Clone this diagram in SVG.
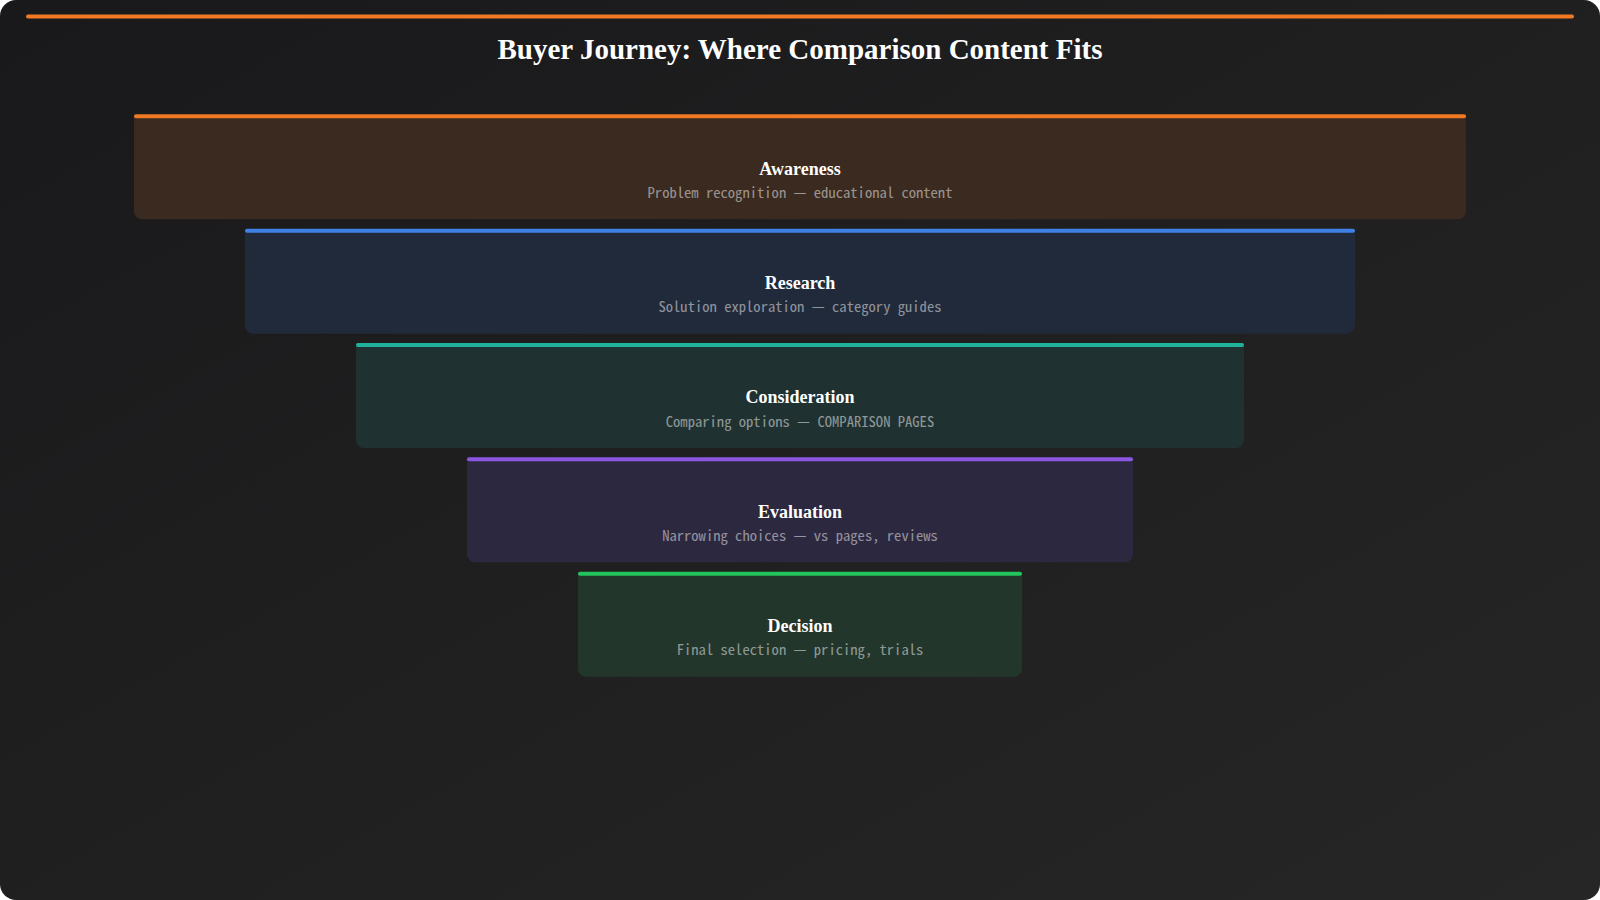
<svg xmlns="http://www.w3.org/2000/svg" width="1600" height="900" viewBox="0 0 1600 900">
  <defs>
    <linearGradient id="bg" x1="0" y1="0" x2="1" y2="1">
      <stop offset="0" stop-color="#19191b"/>
      <stop offset="1" stop-color="#262626"/>
    </linearGradient>
    <style>
      .title { font-family: "Liberation Serif", "Times New Roman", serif; font-weight: bold; font-size: 29px; fill: #ffffff; text-anchor: middle; }
      .label { font-family: "Liberation Serif", "Times New Roman", serif; font-weight: bold; font-size: 18px; fill: #ffffff; text-anchor: middle; }
      .sub { font-family: "Noto Sans Mono CJK SC", "Liberation Mono", monospace; font-size: 14.6px; fill: #ffffff; fill-opacity: 0.5; text-anchor: middle; }
    </style>
  </defs>
  <rect x="0" y="0" width="1600" height="900" fill="#ffffff"/>
  <rect id="background" x="0" y="0" width="1600" height="900" rx="16" fill="url(#bg)"/>
  <rect id="top-accent" x="26" y="14.5" width="1548" height="4" rx="2" fill="#f07a24"/>
  <text id="title" class="title" x="800" y="59">Buyer Journey: Where Comparison Content Fits</text>

  <g id="connectors"></g>

  <g id="awareness">
    <path d="M134 116.3 H1466 V211.3 a8 8 0 0 1 -8 8 H142 a8 8 0 0 1 -8 -8 Z" fill="#3a2a20"/>
    <rect x="134" y="114.3" width="1332" height="4" rx="2" fill="#f07a24"/>
    <text class="label" x="800" y="174.5">Awareness</text>
    <text class="sub" x="800" y="198">Problem recognition — educational content</text>
  </g>

  <g id="research">
    <path d="M245 230.7 H1355 V325.7 a8 8 0 0 1 -8 8 H253 a8 8 0 0 1 -8 -8 Z" fill="#212a3b"/>
    <rect x="245" y="228.7" width="1110" height="4" rx="2" fill="#3f80e4"/>
    <text class="label" x="800" y="288.8">Research</text>
    <text class="sub" x="800" y="312.3">Solution exploration — category guides</text>
  </g>

  <g id="consideration">
    <path d="M356 345 H1244 V440 a8 8 0 0 1 -8 8 H364 a8 8 0 0 1 -8 -8 Z" fill="#1f3231"/>
    <rect x="356" y="343" width="888" height="4" rx="2" fill="#20b39c"/>
    <text class="label" x="800" y="403.2">Consideration</text>
    <text class="sub" x="800" y="426.7">Comparing options — COMPARISON PAGES</text>
  </g>

  <g id="evaluation">
    <path d="M467 459.3 H1133 V554.3 a8 8 0 0 1 -8 8 H475 a8 8 0 0 1 -8 -8 Z" fill="#2c2840"/>
    <rect x="467" y="457.3" width="666" height="4" rx="2" fill="#8b57e2"/>
    <text class="label" x="800" y="517.5">Evaluation</text>
    <text class="sub" x="800" y="541">Narrowing choices — vs pages, reviews</text>
  </g>

  <g id="decision">
    <path d="M578 573.7 H1022 V668.7 a8 8 0 0 1 -8 8 H586 a8 8 0 0 1 -8 -8 Z" fill="#22362b"/>
    <rect x="578" y="571.7" width="444" height="4" rx="2" fill="#22c45c"/>
    <text class="label" x="800" y="631.5">Decision</text>
    <text class="sub" x="800" y="655">Final selection — pricing, trials</text>
  </g>
</svg>
